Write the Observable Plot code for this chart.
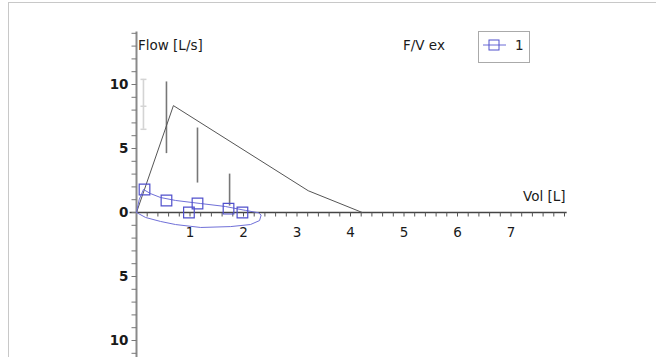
<!DOCTYPE html>
<html><head><meta charset="utf-8">
<script src="https://cdn.jsdelivr.net/npm/d3@7"></script>
<script src="https://cdn.jsdelivr.net/npm/@observablehq/plot@0.6"></script>
<style>
body{margin:0;background:#fff;font-family:"DejaVu Sans",sans-serif;}
#wrap{position:relative;width:656px;height:357px;overflow:hidden;}
#frame{position:absolute;left:8px;top:2px;width:700px;height:400px;border:1px solid #c8c8c8;box-sizing:border-box;}
.lbl{position:absolute;font-size:13.5px;color:#1a1a1a;white-space:nowrap;}
#legend{position:absolute;left:478px;top:31px;width:52px;height:32px;border:1px solid #aaa;box-sizing:border-box;background:#fff;}
</style></head>
<body><div id="wrap"><div id="frame"></div><div id="chart"></div>
<div class="lbl" style="left:138px;top:37px">Flow [L/s]</div>
<div class="lbl" style="left:403px;top:37px">F/V ex</div>
<div class="lbl" style="left:523px;top:188px">Vol [L]</div>
<div id="legend"><svg width="50" height="30"><line x1="4" y1="13" x2="27" y2="13" stroke="#6b6bd6"/><rect x="10" y="8" width="10" height="10" fill="none" stroke="#5050cc"/><text x="36" y="18" font-size="13.5" fill="#222" font-family="DejaVu Sans">1</text></svg></div>
</div>
<script>
// predicted curve (black)
const predVol = [0, 0.69, 3.21, 4.22];
const predFlow = [0, 8.35, 1.7, 0];
// error bars
const errVol = [0.13, 0.56, 1.14, 1.74];
const errLo = [6.5, 4.6, 2.3, 0.5];
const errHi = [10.4, 10.2, 6.6, 3.0];
const errMid = [8.3, null, null, null];
const errColor = ["#d4d4d4", "#777", "#777", "#777"];
// measured loop (blue)
const loopVol = [0, 0.05, 0.13, 0.26, 0.45, 0.73, 1.2, 1.66, 2.04, 2.28, 2.33, 2.3, 2.13, 1.76, 1.2, 0.73, 0.45, 0.17, 0];
const loopFlow = [0, 1.0, 1.8, 1.48, 1.17, 0.94, 0.7, 0.47, 0.16, -0.02, -0.2, -0.63, -0.94, -1.1, -1.17, -0.94, -0.7, -0.39, 0];
// squares
const sqVol = [0.15, 0.56, 0.98, 1.14, 1.72, 1.98];
const sqFlow = [1.8, 0.94, 0.0, 0.7, 0.3, 0.0];
// axis ticks
const xTickLabels = [1, 2, 3, 4, 5, 6, 7];
const yTickValues = [10, 5, 0, -5, -10];

const xMinor = d3.range(0, 40.01).map(i => i * 0.2);
const yMinor = d3.range(-11, 15);

const pred = predVol.map((v, i) => ({v, f: predFlow[i]}));
const errs = errVol.map((v, i) => ({v, lo: errLo[i], hi: errHi[i], mid: errMid[i], c: errColor[i]}));
const loop = loopVol.map((v, i) => ({v, f: loopFlow[i]}));
const sq = sqVol.map((v, i) => ({v, f: sqFlow[i]}));

const cap = {draw(ctx, size) { ctx.moveTo(-3, 0); ctx.lineTo(3, 0); }};
const hTick = {draw(ctx, size) { ctx.moveTo(-5, 0); ctx.lineTo(0, 0); }};
const vTick = {draw(ctx, size) { ctx.moveTo(0, 0); ctx.lineTo(0, 4); }};

const chart = Plot.plot({
  width: 656, height: 357,
  marginTop: 0, marginBottom: 0, marginLeft: 0, marginRight: 0,
  x: {domain: [-136/53.5, 520/53.5], axis: null},
  y: {domain: [-145/12.8, 212/12.8], axis: null},
  style: {background: "transparent", fontFamily: "DejaVu Sans, sans-serif"},
  marks: [
    // x axis
    Plot.ruleY([0], {x1: -0.12, x2: 8.05, stroke: "#444", strokeWidth: 1.3}),
    Plot.dot(xMinor, {x: d => d, y: 0, symbol: vTick, stroke: "#555", strokeWidth: 1}),
    Plot.text(xTickLabels, {x: d => d, y: 0, dy: 20, text: d => String(d), fontSize: 13.5, fill: "#1a1a1a"}),
    // y axis
    Plot.ruleX([0], {y1: 14.1, y2: -12, stroke: "#8a8a8a", strokeWidth: 2}),
    Plot.dot(yMinor, {x: 0, y: d => d, symbol: hTick, stroke: "#777", strokeWidth: 1}),
    Plot.text(yTickValues, {x: 0, y: d => d, dx: -8, textAnchor: "end", text: d => String(Math.abs(d)), fontSize: 13.5, fill: "#1a1a1a", fontWeight: 600}),
    // error bars
    Plot.ruleX(errs, {x: "v", y1: "lo", y2: "hi", stroke: "c", strokeWidth: 1.6}),
    Plot.dot(errs.slice(0,1), {x: "v", y: "lo", symbol: cap, stroke: "c"}),
    Plot.dot(errs.slice(0,1), {x: "v", y: "hi", symbol: cap, stroke: "c"}),
    Plot.dot(errs.slice(0,1), {x: "v", y: "mid", symbol: cap, stroke: "c"}),
    // predicted line
    Plot.line(pred, {x: "v", y: "f", stroke: "#555", strokeWidth: 1}),
    // measured loop
    Plot.line(loop, {x: "v", y: "f", stroke: "#7070d8", strokeWidth: 1, curve: "linear"}),
    Plot.dot(sq, {x: "v", y: "f", symbol: "square", r: 6, stroke: "#5050cc", strokeWidth: 1.2, fill: "none"})
  ]
});
chart.style.position = "absolute";
chart.style.left = "0px";
chart.style.top = "0px";
document.getElementById("chart").appendChild(chart);
</script>
</body></html>
